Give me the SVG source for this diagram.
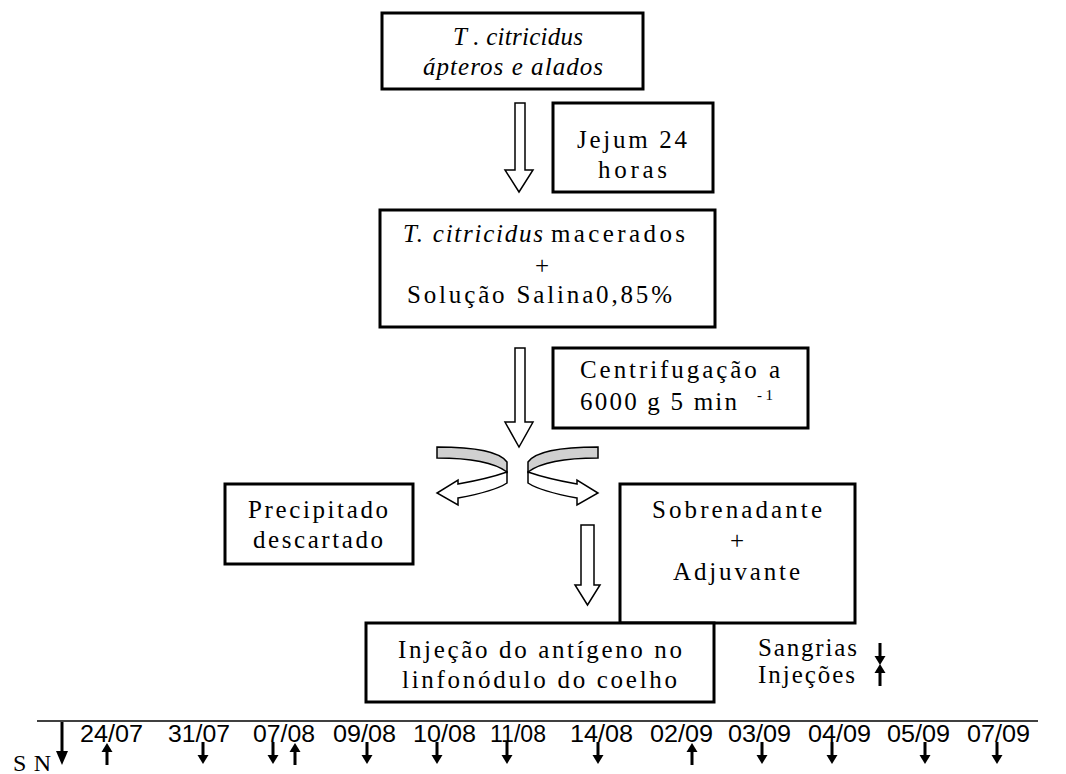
<svg xmlns="http://www.w3.org/2000/svg" xmlns:xlink="http://www.w3.org/1999/xlink" width="1066" height="774" viewBox="0 0 1066 774">
<style>
.box{fill:#fff;stroke:#000;stroke-width:3}
.t{font-family:"Liberation Serif","Times New Roman",serif;font-size:25px;fill:#000}
.i{font-style:italic}
.d{font-family:"Liberation Sans",Arial,sans-serif;font-size:23px;fill:#000}
.hol{fill:#fff;stroke:#000;stroke-width:1.5;stroke-linejoin:miter}
.gray{fill:#d0d0d0;stroke:#000;stroke-width:1.5}
</style>
<defs>
<g id="dn"><rect x="-1.5" y="0" width="3" height="14" fill="#000"/><polygon points="-5.5,13 5.5,13 0,22" fill="#000"/></g>
<g id="up"><polygon points="0,0 -5.5,9 5.5,9" fill="#000"/><rect x="-1.5" y="8" width="3" height="14" fill="#000"/></g>
</defs>
<rect width="1066" height="774" fill="#fff"/>

<g id="connectors">
<path class="hol" d="M515,103 H525 V170 H533 L519,192 L505,170 H515 Z"/>
<path class="hol" d="M515,348 H525 V422 H533 L519,447 L505,422 H515 Z"/>
<path class="hol" d="M581,525 H594 V585 H600 L587.5,605 L575,585 H581 Z"/>
<g id="curve-left">
<path class="gray" d="M437,447 C475,447 500,452 507,462 L507,472 C495,463 470,458 437,458 Z"/>
<path class="hol" d="M507,472 C490,478 475,481 458,484 L458,480 L437,493 L458,505 L458,498 C480,494 498,489 507,483 Z"/>
</g>
<g id="curve-right" transform="translate(1035,0) scale(-1,1)">
<path class="gray" d="M437,447 C475,447 500,452 507,462 L507,472 C495,463 470,458 437,458 Z"/>
<path class="hol" d="M507,472 C490,478 475,481 458,484 L458,480 L437,493 L458,505 L458,498 C480,494 498,489 507,483 Z"/>
</g>
</g>

<g id="n1">
<rect class="box" x="382" y="13" width="261" height="76"/>
<text class="t i" x="453" y="45" textLength="130" lengthAdjust="spacing">T . citricidus</text>
<text class="t i" x="423" y="75" textLength="180" lengthAdjust="spacing">ápteros e alados</text>
</g>

<g id="n2">
<rect class="box" x="553" y="103" width="160" height="89"/>
<text class="t" x="577" y="148" textLength="110" lengthAdjust="spacing">Jejum 24</text>
<text class="t" x="598" y="178" textLength="69" lengthAdjust="spacing">horas</text>
</g>

<g id="n3">
<rect class="box" x="380" y="210" width="335" height="117"/>
<text class="t i" x="403" y="242" textLength="140" lengthAdjust="spacing">T. citricidus</text>
<text class="t" x="551" y="242" textLength="134" lengthAdjust="spacing">macerados</text>
<text class="t" x="542" y="274" text-anchor="middle">+</text>
<text class="t" x="407" y="303" textLength="265" lengthAdjust="spacing">Solução Salina0,85%</text>
</g>

<g id="n4">
<rect class="box" x="553" y="348" width="255" height="80"/>
<text class="t" x="580" y="378" textLength="200" lengthAdjust="spacing">Centrifugação a</text>
<text class="t" x="580" y="410" textLength="157" lengthAdjust="spacing">6000 g 5 min</text>
<text class="t" x="757" y="400" style="font-size:15px" textLength="16" lengthAdjust="spacing">-1</text>
</g>

<g id="n5">
<rect class="box" x="225" y="484" width="188" height="80"/>
<text class="t" x="248" y="518" textLength="140" lengthAdjust="spacing">Precipitado</text>
<text class="t" x="253" y="548" textLength="130" lengthAdjust="spacing">descartado</text>
</g>

<g id="n6">
<rect class="box" x="620" y="484" width="235" height="139"/>
<text class="t" x="652" y="518" textLength="170" lengthAdjust="spacing">Sobrenadante</text>
<text class="t" x="737" y="549" text-anchor="middle">+</text>
<text class="t" x="673" y="580" textLength="127" lengthAdjust="spacing">Adjuvante</text>
</g>

<g id="n7">
<rect class="box" x="366" y="623" width="348" height="79"/>
<text class="t" x="398" y="658" textLength="284" lengthAdjust="spacing">Injeção do antígeno no</text>
<text class="t" x="402" y="688" textLength="275" lengthAdjust="spacing">linfonódulo do coelho</text>
</g>

<g id="legend">
<text class="t" x="758" y="656" textLength="99" lengthAdjust="spacing">Sangrias</text>
<text class="t" x="758" y="683" textLength="97" lengthAdjust="spacing">Injeções</text>
<use xlink:href="#dn" x="880" y="643"/>
<use xlink:href="#up" x="880" y="664"/>
</g>

<g id="timeline">
<path d="M37,721 H1038" stroke="#000" stroke-width="1.5" fill="none"/>
<path d="M62,722 V752" stroke="#000" stroke-width="3"/>
<polygon points="56,751 68,751 62,765" fill="#000"/>
<text class="t" x="13" y="771" style="font-size:24px" textLength="38" lengthAdjust="spacing">SN</text>
<text class="d" x="80" y="742" textLength="63" lengthAdjust="spacingAndGlyphs">24/07</text>
<text class="d" x="168" y="742" textLength="62" lengthAdjust="spacingAndGlyphs">31/07</text>
<text class="d" x="253" y="742" textLength="62" lengthAdjust="spacingAndGlyphs">07/08</text>
<text class="d" x="333" y="742" textLength="63" lengthAdjust="spacingAndGlyphs">09/08</text>
<text class="d" x="413" y="742" textLength="63" lengthAdjust="spacingAndGlyphs">10/08</text>
<text class="d" x="490" y="742" textLength="56" lengthAdjust="spacingAndGlyphs">11/08</text>
<text class="d" x="570" y="742" textLength="63" lengthAdjust="spacingAndGlyphs">14/08</text>
<text class="d" x="650" y="742" textLength="63" lengthAdjust="spacingAndGlyphs">02/09</text>
<text class="d" x="728" y="742" textLength="63" lengthAdjust="spacingAndGlyphs">03/09</text>
<text class="d" x="808" y="742" textLength="63" lengthAdjust="spacingAndGlyphs">04/09</text>
<text class="d" x="887" y="742" textLength="63" lengthAdjust="spacingAndGlyphs">05/09</text>
<text class="d" x="967" y="742" textLength="63" lengthAdjust="spacingAndGlyphs">07/09</text>
<use xlink:href="#up" x="107" y="743"/>
<use xlink:href="#dn" x="203" y="742"/>
<use xlink:href="#dn" x="273" y="742"/>
<use xlink:href="#up" x="295" y="743"/>
<use xlink:href="#dn" x="367" y="742"/>
<use xlink:href="#dn" x="437" y="742"/>
<use xlink:href="#dn" x="507" y="742"/>
<use xlink:href="#dn" x="598" y="742"/>
<use xlink:href="#up" x="692" y="743"/>
<use xlink:href="#dn" x="762" y="742"/>
<use xlink:href="#dn" x="832" y="742"/>
<use xlink:href="#dn" x="925" y="742"/>
<use xlink:href="#dn" x="997" y="742"/>
</g>
</svg>
